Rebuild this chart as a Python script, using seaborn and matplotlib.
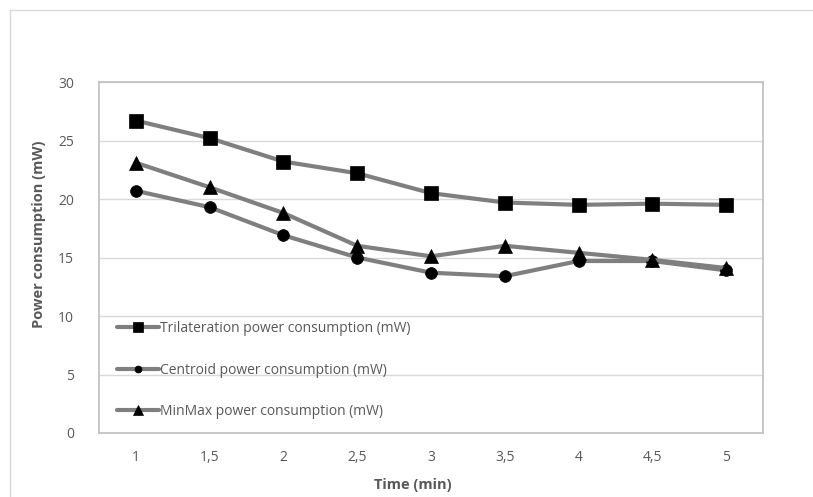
import matplotlib
matplotlib.use("Agg")
import matplotlib.pyplot as plt
import seaborn as sns
import pandas as pd
from matplotlib.patches import Rectangle
from matplotlib.legend_handler import HandlerLine2D
from matplotlib.lines import Line2D

time_labels = ["1", "1,5", "2", "2,5", "3", "3,5", "4", "4,5", "5"]
trilateration = [26.7, 25.2, 23.2, 22.2, 20.5, 19.7, 19.5, 19.6, 19.5]
centroid = [20.7, 19.3, 16.9, 15.0, 13.7, 13.4, 14.7, 14.7, 13.9]
minmax = [23.1, 21.0, 18.8, 16.0, 15.1, 16.0, 15.4, 14.8, 14.1]
series_names = ["Trilateration power consumption (mW)",
                "Centroid power consumption (mW)",
                "MinMax power consumption (mW)"]
y_ticks = [0, 5, 10, 15, 20, 25, 30]

sns.set_theme(style="white")
plt.rcParams['font.family'] = ['Open Sans', 'DejaVu Sans']

W, H = 813, 497
fig = plt.figure(figsize=(W / 100, H / 100), dpi=100)
ax = fig.add_axes([99 / W, 1 - 433 / H, (763 - 99) / W, (433 - 82) / H])

# outer chart border
fig.patches.append(Rectangle((10 / W, -0.05), 1.2, 1 - 10 / H + 0.05,
                             transform=fig.transFigure, fill=False,
                             edgecolor="#d9d9d9", linewidth=1.0, zorder=0))

df = pd.DataFrame({"time": time_labels, "tri": trilateration,
                   "cen": centroid, "mm": minmax})

line_color = "#7f7f7f"
specs = [("tri", "s", 10.5, series_names[0]),
         ("cen", "o", 8.5, series_names[1]),
         ("mm", "^", 10.5, series_names[2])]
for col, mk, ms, name in specs:
    sns.lineplot(data=df, x="time", y=col, ax=ax, sort=False, color=line_color,
                 linewidth=3, marker=mk, markersize=ms, markerfacecolor="black",
                 markeredgecolor="black", markeredgewidth=0.5, label=name,
                 zorder=3)

ax.set_xlim(-0.5, len(time_labels) - 0.5)
ax.set_ylim(0, 30)
ax.set_yticks(y_ticks)
ax.yaxis.grid(True, color="#d9d9d9", linewidth=1)
ax.xaxis.grid(False)
for s in ax.spines.values():
    s.set_color("#bfbfbf")
    s.set_linewidth(1.2)

ax.tick_params(axis="both", length=0, labelsize=10, labelcolor="#595959")
ax.tick_params(axis="x", pad=12)
ax.tick_params(axis="y", pad=18)

ax.set_xlabel("Time (min)", fontsize=10.5, fontweight="bold", color="#595959")
ax.xaxis.set_label_coords((413 - 99) / (763 - 99), -(478 - 433) / (433 - 82))
ax.set_ylabel("Power consumption (mW)", fontsize=10.5, fontweight="bold",
              color="#595959")
ax.yaxis.set_label_coords(-(99 - 46) / (763 - 99), (433 - 234) / (433 - 82))


def shrink_marker(legline, orig):
    legline.update_from(orig)
    legline.set_markersize(7 if orig.get_marker() != "o" else 5)


handles, labels = ax.get_legend_handles_labels()
leg = ax.legend(handles, labels, loc="lower left", frameon=False,
                bbox_to_anchor=(0.006, 0.0), handlelength=3.0, handletextpad=0.1,
                labelspacing=1.9, fontsize=10, borderaxespad=0.6,
                handler_map={Line2D: HandlerLine2D(update_func=shrink_marker)})
for t in leg.get_texts():
    t.set_color("#595959")

fig.savefig("out.png", dpi=100, facecolor="white")
